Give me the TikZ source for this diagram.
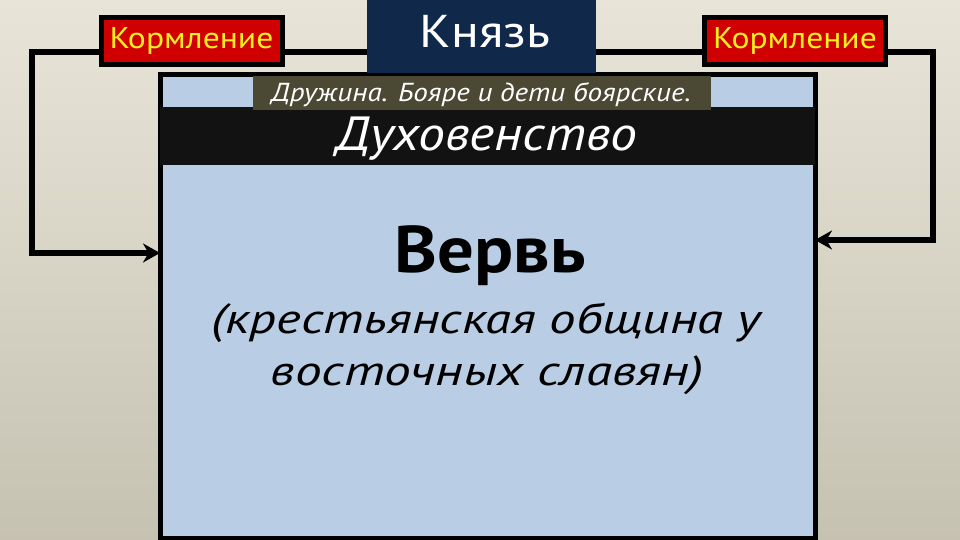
\documentclass[tikz,border=0pt]{standalone}
\usepackage{fontspec}
\setmainfont{PT Sans}
\usetikzlibrary{arrows.meta}
\definecolor{bgtop}{HTML}{E8E4D8}
\definecolor{bgbot}{HTML}{C6C2B2}
\definecolor{mainblue}{HTML}{B9CDE5}
\definecolor{navy}{HTML}{10284A}
\definecolor{olive}{HTML}{4B4834}
\definecolor{band}{HTML}{121212}
\definecolor{kred}{HTML}{D00000}
\definecolor{kyel}{HTML}{FFEE22}
\newcommand{\hs}[2]{\scalebox{#1}[1]{#2}}
\tikzset{
  korm/.style={draw=black, line width=5pt, fill=kred, text=kyel, inner sep=0pt,
    minimum width=181pt, minimum height=47pt, font=\fontsize{30}{34}\selectfont},
  conn/.style={draw=black, line width=6pt},
  arr/.style={conn, -{Stealth[length=17pt,width=19pt]}},
  plain/.style={inner sep=0pt, outer sep=0pt},
}
\begin{document}
\begin{tikzpicture}[x=1pt,y=-1pt]
\useasboundingbox (0,0) rectangle (960,540);
\shade[top color=bgtop, bottom color=bgbot] (0,0) rectangle (960,540);
% main box
\node[plain, draw=black, line width=5pt, fill=mainblue, anchor=north west,
  minimum width=655pt, minimum height=463pt] (main) at (160,75) {};
% clergy band
\node[plain, fill=band, anchor=north west, minimum width=655pt, minimum height=58pt] (dukh) at (160,107) {};
\node[plain, text=white, font=\fontsize{48}{52}\selectfont\itshape, anchor=base] (dukht) at (487,151) {\hs{1.12}{Духовенство}};
% druzhina
\node[plain, fill=olive, anchor=north west, minimum width=458pt, minimum height=34pt] (druzh) at (253,76) {};
\node[plain, text=white, font=\fontsize{26}{30}\selectfont\itshape, anchor=base] (druzht) at (481,102) {\hs{1.12}{Дружина. Бояре и дети боярские.}};
% prince
\node[plain, fill=navy, anchor=north west, minimum width=229pt, minimum height=78pt] (knyaz) at (367,-5) {};
\node[plain, text=white, font=\fontsize{46}{50}\selectfont, anchor=base] (knyazt) at (485,48) {\hs{1.12}{Князь}};
% feeding boxes
\node[korm] (korm1) at (191.5,41.5) {\hs{1.12}{Кормление}};
\node[korm] (korm2) at (795,41.5) {\hs{1.12}{Кормление}};
% verv text
\node[plain, font=\fontsize{66}{70}\selectfont\bfseries, anchor=base] (verv) at (490,272) {\hs{1.1}{Вервь}};
\node[plain, font=\fontsize{42}{46}\selectfont\itshape, anchor=base] (sub1) at (486,333) {\hs{1.26}{(крестьянская община у}};
\node[plain, font=\fontsize{42}{46}\selectfont\itshape, anchor=base] (sub2) at (487,385) {\hs{1.27}{восточных славян)}};
% connectors
\coordinate (lc) at (32,253);
\coordinate (rc) at (933,240);
\draw[conn] ([yshift=-10.5pt]korm1.east) -- ([yshift=-10.5pt]korm1.east -| knyaz.west);
\draw[conn] ([yshift=-10.5pt]korm2.west) -- ([yshift=-10.5pt]korm2.west -| knyaz.east);
\draw[arr] ([yshift=-10.5pt]korm1.west) -| (lc) -- (lc -| main.west);
\draw[arr] ([yshift=-10.5pt]korm2.east) -| (rc) -- (rc -| main.east);
\end{tikzpicture}
\end{document}
